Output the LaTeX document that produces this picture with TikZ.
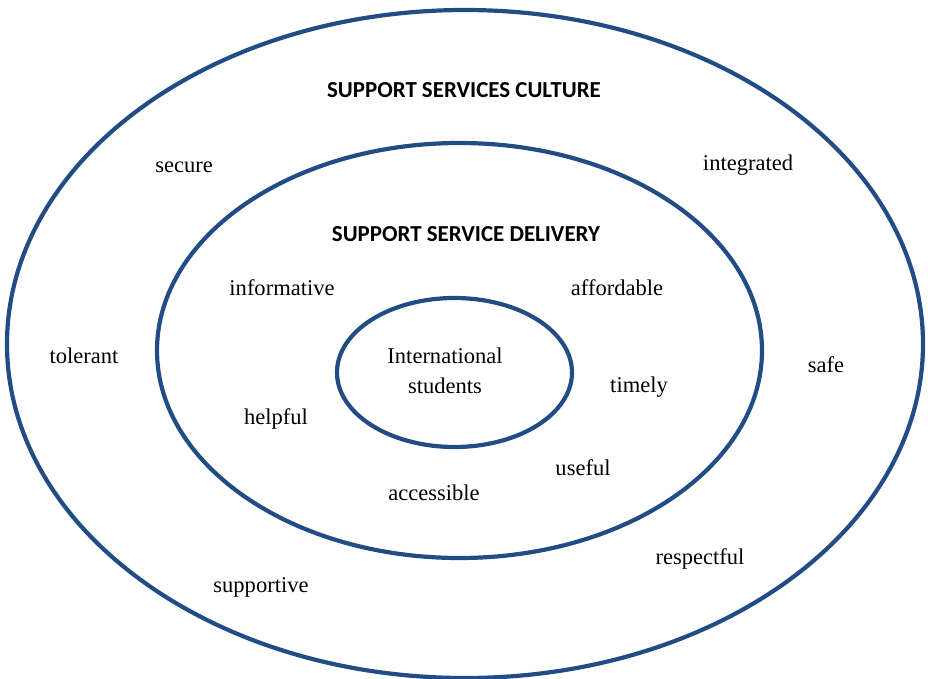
\documentclass[tikz,border=0pt]{standalone}
\usepackage{fontspec}
\setmainfont{Liberation Serif}
\newfontfamily\headfont{Carlito}
\begin{document}
\begin{tikzpicture}[x=1bp,y=-1bp,
  ring/.style={draw=ringblue,line width=4.2bp},
  word/.style={font=\fontsize{22.6}{26}\selectfont,inner sep=0pt},
  heading/.style={font=\headfont\bfseries\fontsize{23}{27}\selectfont,inner sep=0pt}]
\definecolor{ringblue}{HTML}{224C84}
\useasboundingbox (0,0) rectangle (928,679);
% three nested rings
\draw[ring] (465,344) ellipse [x radius=458, y radius=334];
\draw[ring] (459.5,350.5) ellipse [x radius=302.5, y radius=207.5];
\draw[ring] (454.5,372.5) ellipse [x radius=117.5, y radius=74.5];
% headings
\node[heading] (culture) at (464,90) {SUPPORT SERVICES CULTURE};
\node[heading] (delivery) at (466,234) {SUPPORT SERVICE DELIVERY};
% centre
\node[word,align=center] (students) at (445,371) {International\\[4bp]students};
% outer ring words
\node[word] (secure) at (184,167) {secure};
\node[word] (integrated) at (748,165) {integrated};
\node[word] (tolerant) at (84,356) {tolerant};
\node[word] (safe) at (826,365) {safe};
\node[word] (respectful) at (700,559) {respectful};
\node[word] (supportive) at (261,587) {supportive};
% middle ring words
\node[word] (informative) at (282,288) {informative};
\node[word] (affordable) at (617,288) {affordable};
\node[word] (timely) at (639,387) {timely};
\node[word] (helpful) at (276,419) {helpful};
\node[word] (useful) at (583,468) {useful};
\node[word] (accessible) at (434,493) {accessible};
\end{tikzpicture}
\end{document}
